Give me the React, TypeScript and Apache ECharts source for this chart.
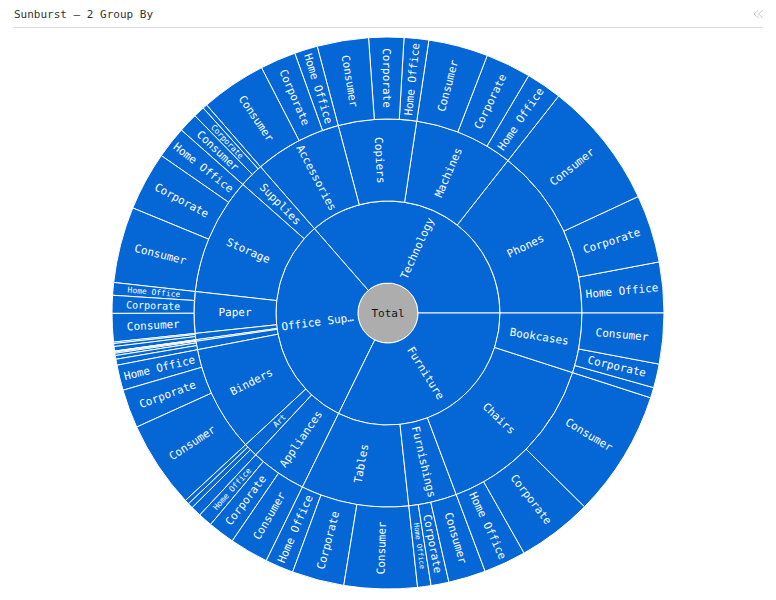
import { useEffect, useRef } from 'react'
import * as echarts from 'echarts'

const MONO = '"DejaVu Sans Mono", monospace'
const BLUE = '#0567d6'

const segments = ['Home Office', 'Corporate', 'Consumer']

// sales in thousands, same order as segments
const phones = [68, 91, 171]
const machines = [48, 61, 80]
const copiers = [33, 47, 69]
const accessories = [31, 48, 88]

const supplies = [6, 15, 26]
const storage = [43, 79, 102]
const paper = [17, 24, 38]
const labels = [2, 4, 6]
const fasteners = [0.5, 0.9, 1.6]
const envelopes = [3, 5, 8]
const binders = [34, 52, 117]
const art = [6, 7, 14]
const appliances = [19, 36, 52]

const tables = [38, 70, 98]
const furnishings = [18, 24, 50]
const chairs = [57, 101, 170]
const bookcases = [14, 32, 68]

const technology: [string, number[]][] = [
  ['Phones', phones],
  ['Machines', machines],
  ['Copiers', copiers],
  ['Accessories', accessories],
]
const officeSupplies: [string, number[]][] = [
  ['Supplies', supplies],
  ['Storage', storage],
  ['Paper', paper],
  ['Labels', labels],
  ['Fasteners', fasteners],
  ['Envelopes', envelopes],
  ['Binders', binders],
  ['Art', art],
  ['Appliances', appliances],
]
const furniture: [string, number[]][] = [
  ['Tables', tables],
  ['Furnishings', furnishings],
  ['Chairs', chairs],
  ['Bookcases', bookcases],
]

// arcs too narrow for a label
const noSubLabel = ['Labels', 'Fasteners', 'Envelopes']
const noLeafLabel = ['Labels', 'Fasteners', 'Envelopes', 'Art']

// labels that get shrunk to fit their arc
const smallLabels: Record<string, number> = {
  'Art': 8,
  'Supplies/Home Office': 0,
  'Supplies/Corporate': 8,
  'Paper/Home Office': 8,
  'Paper/Corporate': 10,
  'Appliances/Home Office': 8,
  'Furnishings/Home Office': 7,
  'Bookcases/Home Office': 0,
}

function buildGroup(name: string, subs: [string, number[]][], shown = name) {
  return {
    name,
    label: { formatter: shown },
    children: subs.map(([sub, values]) => ({
      name: sub,
      label: noSubLabel.includes(sub)
        ? { show: false }
        : { fontSize: smallLabels[sub] ?? 11 },
      children: segments.map((segment, i) => {
        const size = smallLabels[sub + '/' + segment]
        const hidden = noLeafLabel.includes(sub) || size === 0
        return {
          name: segment,
          value: values[i],
          label: hidden ? { show: false } : { fontSize: size ?? 11 },
        }
      }),
    })),
  }
}

export default function App() {
  const chartRef = useRef<HTMLDivElement>(null)

  useEffect(() => {
    if (!chartRef.current) return
    document.body.style.margin = '0'

    const chart = echarts.init(chartRef.current, null, { renderer: 'svg' })

    const chevron = (x: number) => ({
      type: 'polyline',
      shape: { points: [[x + 4.5, 10], [x, 14], [x + 4.5, 18]] },
      style: { stroke: '#c8c8c8', lineWidth: 1, fill: 'none' },
    })

    chart.setOption({
      animation: false,
      backgroundColor: '#fff',
      textStyle: { fontFamily: MONO },
      title: {
        text: 'Sunburst — 2 Group By',
        left: 14,
        top: 9,
        padding: 0,
        textStyle: { fontFamily: MONO, fontSize: 11, fontWeight: 'normal', color: '#333' },
      },
      graphic: [
        {
          type: 'line',
          shape: { x1: 13, y1: 27.5, x2: 763, y2: 27.5 },
          style: { stroke: '#dcdcdc', lineWidth: 1 },
        },
        chevron(754),
        chevron(758.5),
      ],
      series: [
        {
          type: 'sunburst',
          center: [388, 313],
          startAngle: 0,
          clockwise: false,
          sort: null,
          nodeClick: false,
          emphasis: { focus: 'none' },
          itemStyle: { color: BLUE, borderColor: '#fff', borderWidth: 1 },
          label: {
            rotate: 'radial',
            color: '#fff',
            fontFamily: MONO,
            fontSize: 11,
            minAngle: 0,
          },
          levels: [
            {},
            {
              r0: 0,
              r: 30,
              itemStyle: { color: '#adadad' },
              // counter-clockwise layout puts this label at r/2, padding brings it back to the centre
              label: { rotate: 0, color: '#111', fontSize: 11, padding: [0, 0, 0, 30] },
            },
            { r0: 30, r: 112 },
            { r0: 112, r: 194 },
            { r0: 194, r: 276 },
          ],
          data: [
            {
              name: 'Total',
              children: [
                buildGroup('Technology', technology),
                buildGroup('Office Supplies', officeSupplies, 'Office Sup…'),
                buildGroup('Furniture', furniture),
              ],
            },
          ],
        },
      ],
    })

    return () => {
      chart.dispose()
    }
  }, [])

  return <div ref={chartRef} style={{ width: 776, height: 600 }} />
}
